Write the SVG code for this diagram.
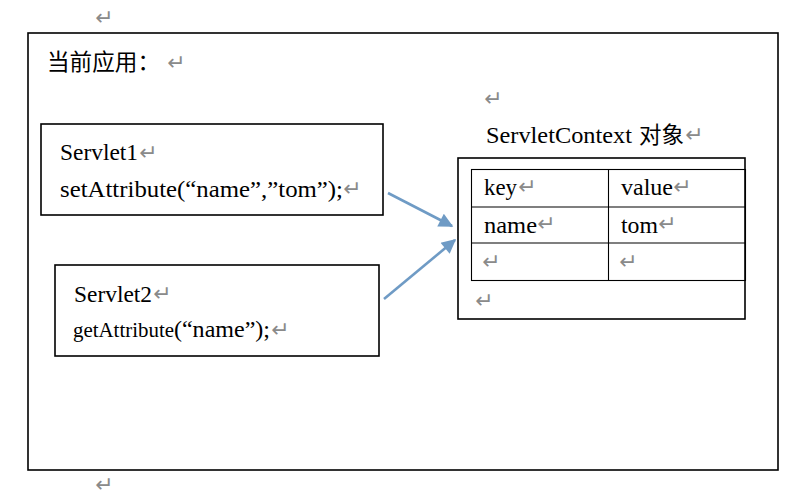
<svg xmlns="http://www.w3.org/2000/svg" width="800" height="498" viewBox="0 0 800 498">
<defs>
<style>
.t{font-family:"Liberation Serif","Times New Roman","Noto Sans CJK SC",serif;font-size:23px;fill:#000}
.cj{font-family:"Noto Sans CJK SC","Liberation Serif",sans-serif;font-size:22.5px;fill:#000}
.rm{font-family:"DejaVu Sans","Liberation Sans",sans-serif;font-size:22px;fill:#8a8a8a}
.box{fill:#fff;stroke:#000;stroke-width:1.6}
.cell{fill:none;stroke:#000;stroke-width:1.1}
.arr{stroke:#6f9bc5;stroke-width:2.6;fill:none;marker-end:url(#ah)}
</style>
<marker id="ah" viewBox="0 0 10 10" refX="9" refY="5" markerWidth="6" markerHeight="5.5" orient="auto" markerUnits="strokeWidth">
<path d="M0,0 L10,5 L0,10 z" fill="#6f9bc5"/>
</marker>
</defs>
<rect width="800" height="498" fill="#fff"/>
<text class="rm" x="95" y="25">↵</text>
<g id="app">
<rect class="box" x="28" y="33" width="750" height="437" stroke-width="2"/>
<text class="cj" x="47" y="70" textLength="113" lengthAdjust="spacingAndGlyphs">当前应用：</text>
<text class="rm" x="167" y="70">↵</text>
</g>
<g id="servlet1">
<rect class="box" x="41" y="124" width="342" height="91"/>
<text class="t" x="60" y="160" textLength="78" lengthAdjust="spacingAndGlyphs">Servlet1</text>
<text class="rm" x="139" y="160">↵</text>
<text class="t" x="60" y="197" textLength="283" lengthAdjust="spacingAndGlyphs">setAttribute(“name”,”tom”);</text>
<text class="rm" x="343" y="196">↵</text>
</g>
<g id="servlet2">
<rect class="box" x="55" y="265" width="324" height="91"/>
<text class="t" x="74" y="302" textLength="78" lengthAdjust="spacingAndGlyphs">Servlet2</text>
<text class="rm" x="153" y="301">↵</text>
<text class="t" x="73" y="337" textLength="197" lengthAdjust="spacingAndGlyphs"><tspan font-size="20">getAttribute</tspan>(“name”);</text>
<text class="rm" x="271" y="337">↵</text>
</g>
<g id="context">
<text class="rm" x="484" y="106">↵</text>
<text class="t" x="486" y="143" textLength="146" lengthAdjust="spacingAndGlyphs">ServletContext</text>
<text class="cj" x="639" y="143" textLength="45" lengthAdjust="spacingAndGlyphs">对象</text>
<text class="rm" x="685" y="142">↵</text>
<rect class="box" x="458" y="158" width="287" height="161"/>
<rect class="cell" x="471.5" y="169.5" width="274" height="111"/>
<line class="cell" x1="471.5" y1="207" x2="745.5" y2="207"/>
<line class="cell" x1="471.5" y1="243" x2="745.5" y2="243"/>
<line class="cell" x1="608.5" y1="169.5" x2="608.5" y2="280.5"/>
<text class="t" x="484" y="195" textLength="33" lengthAdjust="spacingAndGlyphs">key</text>
<text class="rm" x="518" y="194">↵</text>
<text class="t" x="621" y="195" textLength="52" lengthAdjust="spacingAndGlyphs">value</text>
<text class="rm" x="673" y="194">↵</text>
<text class="t" x="484" y="233" textLength="53" lengthAdjust="spacingAndGlyphs">name</text>
<text class="rm" x="537" y="231">↵</text>
<text class="t" x="621" y="233" textLength="37" lengthAdjust="spacingAndGlyphs">tom</text>
<text class="rm" x="658" y="231">↵</text>
<text class="rm" x="482" y="269">↵</text>
<text class="rm" x="619" y="269">↵</text>
<text class="rm" x="475" y="308">↵</text>
</g>
<g id="connectors">
<line class="arr" x1="388" y1="193" x2="452" y2="226"/>
<line class="arr" x1="384" y1="299" x2="455" y2="240"/>
</g>
<text class="rm" x="95" y="492">↵</text>
</svg>
